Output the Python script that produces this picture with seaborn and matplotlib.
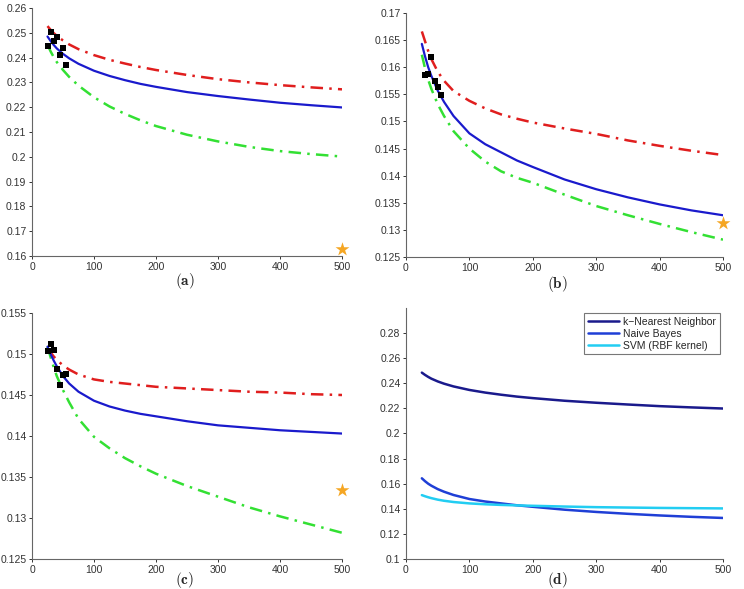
import numpy as np
import pandas as pd
import seaborn as sns
import matplotlib
matplotlib.use("Agg")
import matplotlib.pyplot as plt

n = [25, 30, 35, 40, 50, 60, 75, 100, 125, 150, 175, 200, 250, 300, 350, 400, 450, 500]

# (a) k-Nearest Neighbor
a_fit = [0.2485, 0.2467, 0.2451, 0.2437, 0.2415, 0.2397, 0.2375, 0.2347, 0.2326, 0.2309,
         0.2294, 0.2282, 0.2261, 0.2245, 0.2231, 0.2218, 0.2208, 0.2199]
a_upper = [0.2527, 0.2512, 0.2499, 0.2488, 0.2469, 0.2453, 0.2434, 0.2410, 0.2391, 0.2376,
           0.2362, 0.2350, 0.2330, 0.2313, 0.2300, 0.2289, 0.2280, 0.2272]
a_lower = [0.2452, 0.2425, 0.2402, 0.2382, 0.2350, 0.2322, 0.2287, 0.2240, 0.2203, 0.2173,
           0.2147, 0.2124, 0.2089, 0.2062, 0.2040, 0.2023, 0.2011, 0.2001]
a_obs_x = [25, 30, 35, 40, 45, 50, 55]
a_obs_y = [0.2448, 0.2503, 0.2465, 0.2484, 0.2410, 0.2440, 0.2370]
a_star = 0.1627

# (b) Naive Bayes
b_fit = [0.1643, 0.1620, 0.1600, 0.1584, 0.1557, 0.1536, 0.1510, 0.1478, 0.1458, 0.1443,
         0.1428, 0.1416, 0.1393, 0.1375, 0.1360, 0.1347, 0.1336, 0.1327]
b_upper = [0.1666, 0.1648, 0.1630, 0.1615, 0.1592, 0.1575, 0.1556, 0.1538, 0.1524, 0.1513,
           0.1505, 0.1498, 0.1487, 0.1477, 0.1465, 0.1455, 0.1446, 0.1438]
b_lower = [0.1623, 0.1598, 0.1577, 0.1560, 0.1532, 0.1510, 0.1482, 0.1450, 0.1426, 0.1408,
           0.1396, 0.1387, 0.1365, 0.1344, 0.1327, 0.1311, 0.1296, 0.1282]
b_obs_x = [30, 35, 40, 45, 50, 55]
b_obs_y = [0.1586, 0.1588, 0.1618, 0.1575, 0.1563, 0.1549]
b_star = 0.1313

# (c) SVM (RBF kernel)
c_fit = [0.1509, 0.1500, 0.1492, 0.1485, 0.1473, 0.1464, 0.1454, 0.1443, 0.1436, 0.1431,
         0.1427, 0.1424, 0.1418, 0.1413, 0.1410, 0.1407, 0.1405, 0.1403]
c_upper = [0.1507, 0.1502, 0.1497, 0.1493, 0.1486, 0.1481, 0.1475, 0.1469, 0.1466, 0.1464,
           0.1462, 0.1460, 0.1458, 0.1456, 0.1454, 0.1453, 0.1451, 0.1450]
c_lower = [0.1509, 0.1496, 0.1484, 0.1473, 0.1456, 0.1441, 0.1421, 0.1399, 0.1385, 0.1373,
           0.1363, 0.1354, 0.1339, 0.1326, 0.1313, 0.1302, 0.1292, 0.1282]
c_obs_x = [25, 30, 35, 40, 45, 50, 55]
c_obs_y = [0.1504, 0.1512, 0.1505, 0.1482, 0.1462, 0.1474, 0.1476]
c_star = 0.1334

labels = ["k\u2212Nearest Neighbor", "Naive Bayes", "SVM (RBF kernel)"]
d_colors = ["#1a1a8c", "#1f3fd6", "#22cdf2"]

sns.set_style("ticks")
plt.rcParams["font.family"] = ["Liberation Sans", "DejaVu Sans"]
plt.rcParams["mathtext.fontset"] = "cm"

fig = plt.figure(figsize=(7.44, 5.89), dpi=100)
W, H = 744, 589

def box(l, r, t, b):
    return [l / W, 1 - b / H, (r - l) / W, (b - t) / H]

ax_a = fig.add_axes(box(32, 342, 8, 256))
ax_b = fig.add_axes(box(406, 723, 13, 257))
ax_c = fig.add_axes(box(32, 342, 313, 559))
ax_d = fig.add_axes(box(406, 723, 308, 559))

dashdot = (0, (5, 2.5, 1, 2.5))
panels = [
    (ax_a, a_fit, a_upper, a_lower, a_obs_x, a_obs_y, a_star, (0.16, 0.26), np.arange(0.16, 0.2601, 0.01)),
    (ax_b, b_fit, b_upper, b_lower, b_obs_x, b_obs_y, b_star, (0.125, 0.17), np.arange(0.125, 0.1701, 0.005)),
    (ax_c, c_fit, c_upper, c_lower, c_obs_x, c_obs_y, c_star, (0.125, 0.155), np.arange(0.125, 0.1551, 0.005)),
]

for ax, fit, up, lo, ox, oy, star, ylim, yt in panels:
    sns.lineplot(x=n, y=up, ax=ax, color="#e01e1e", lw=1.8)
    ax.lines[-1].set_linestyle(dashdot)
    sns.lineplot(x=n, y=lo, ax=ax, color="#33e033", lw=1.8)
    ax.lines[-1].set_linestyle(dashdot)
    sns.lineplot(x=n, y=fit, ax=ax, color="#1a1acc", lw=1.6)
    sns.scatterplot(x=ox, y=oy, ax=ax, marker="s", color="black", s=20, linewidth=0, zorder=5)
    sns.scatterplot(x=[500], y=[star], ax=ax, marker="*", color="#f5a623", s=110, linewidth=0,
                    zorder=5, clip_on=False)
    ax.set_ylim(*ylim)
    ax.set_yticks(yt)
    ax.set_yticklabels([f"{v:g}" for v in np.round(yt, 3)])

for i, fit in enumerate([a_fit, b_fit, c_fit]):
    sns.lineplot(x=n, y=fit, ax=ax_d, color=d_colors[i], lw=1.8, label=labels[i])
ax_d.set_ylim(0.1, 0.3)
dt = np.arange(0.1, 0.2801, 0.02)
ax_d.set_yticks(dt)
ax_d.set_yticklabels([f"{v:g}" for v in np.round(dt, 2)])
leg = ax_d.legend(loc="upper right", fontsize=7.5, frameon=True, fancybox=False,
                  handlelength=3.0, borderpad=0.35, labelspacing=0.2, handletextpad=0.4,
                  borderaxespad=0, bbox_to_anchor=(0.99, 0.98))
leg.get_frame().set_edgecolor("#555555")
leg.get_frame().set_linewidth(0.8)

for ax in [ax_a, ax_b, ax_c, ax_d]:
    ax.set_xlim(0, 500)
    ax.set_xticks([0, 100, 200, 300, 400, 500])
    ax.tick_params(labelsize=7.5, length=2.5, width=0.7, colors="#333333", pad=1.5)
    sns.despine(ax=ax)
    for s in ["left", "bottom"]:
        ax.spines[s].set_color("#666666")
        ax.spines[s].set_linewidth(0.8)
    ax.set_xlabel("")
    ax.set_ylabel("")

for lab, x, y in [("a", 185, 281), ("b", 557, 284), ("c", 185, 580), ("d", 557, 580)]:
    fig.text(x / W, 1 - y / H, r"$\mathbf{(" + lab + r")}$", ha="center", va="center", fontsize=11)

fig.savefig("out.png", dpi=100)
